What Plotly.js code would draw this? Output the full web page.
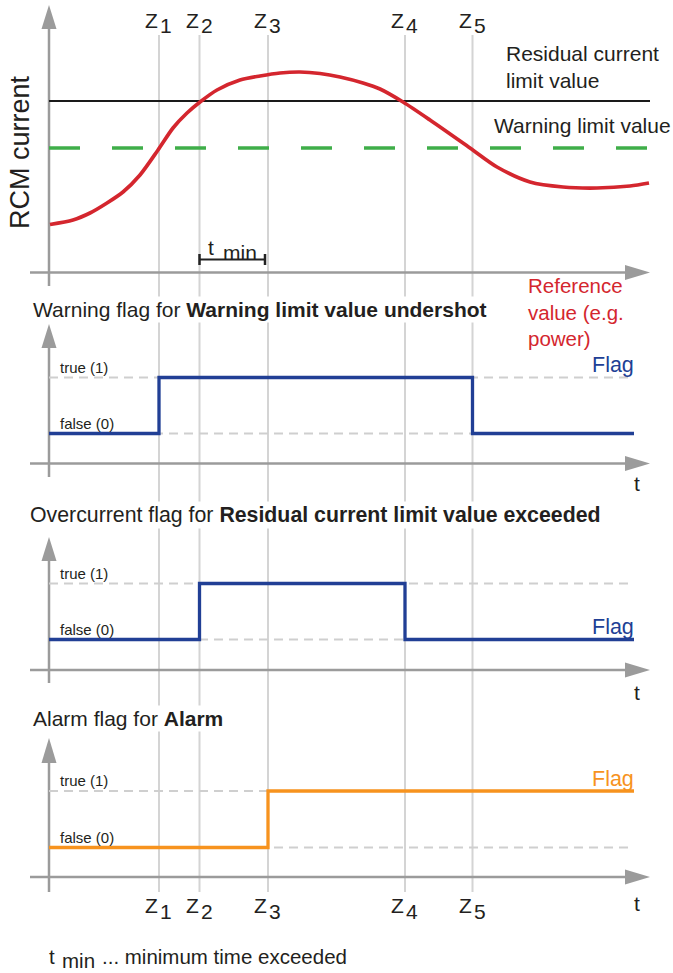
<!DOCTYPE html>
<html>
<head>
<meta charset="utf-8">
<script src="https://cdn.plot.ly/plotly-3.0.1.min.js"></script>
<style>html,body{margin:0;padding:0;background:#fff;}#chart{width:673px;height:973px;}</style>
</head>
<body>
<div id="chart"></div>
<script>
// ---------------- DATA ----------------
const zLabels = ['1', '2', '3', '4', '5'];
const zTimes = [11.0, 15.05, 21.9, 35.6, 42.35];
const tminStart = 15.05, tminEnd = 21.6;
const curveT = [0.1, 2.4, 4.1, 5.8, 7.4, 9.1, 10.9, 12.4, 13.8, 15.1, 16.8, 19.1, 21.1, 23.1, 25.1, 27.1, 29.1, 31.4, 33.1, 35.4, 38.1, 42.1, 44.8, 48.1, 51.4, 54.8, 58.1, 60.0];
const curveI = [4.80, 5.25, 5.95, 6.95, 8.05, 9.75, 12.25, 14.45, 15.95, 17.05, 18.25, 19.25, 19.65, 19.95, 20.05, 19.90, 19.55, 18.95, 18.35, 17.05, 15.25, 12.45, 10.55, 9.05, 8.55, 8.45, 8.65, 8.95];
const limitT = [0, 60.1];
const residualLimit = [17.15, 17.15];
const warningLimit = [12.45, 12.45];
const flagT0 = 0, flagT1 = 58.5;
const warnFlagT = [0, 11.0, 42.35, 58.5];
const warnFlagV = [0, 1, 0, 0];
const overFlagT = [0, 15.05, 35.6, 58.5];
const overFlagV = [0, 1, 0, 0];
const alarmFlagT = [0, 21.9, 58.5];
const alarmFlagV = [0, 1, 1];
const stateLabels = ['false (0)', 'true (1)'];

// ---------------- LAYOUT HELPERS ----------------
const W = 673, H = 973;
const FONT = 'Liberation Sans, Arial, sans-serif';
const TXT = '#231f20';
const AX = '#9b9b9b';
const ZL = '#d4d4d4';
const RED = '#d4262e', GREEN = '#3fae49', BLUE = '#213f95', ORANGE = '#f7931e';
const PX0 = 49, PPT = 10; // x pixel of t=0, pixels per time unit
const xr = [(0 - PX0) / PPT, (W - PX0) / PPT];
const fx = p => p / W;
const fy = p => 1 - p / H;
function yax(pTop, pBot, pZero, ppu) {
  return {domain: [fy(pBot), fy(pTop)], range: [(pZero - pBot) / ppu, (pZero - pTop) / ppu],
          visible: false, fixedrange: true, anchor: 'x'};
}
const F = (size, color) => ({family: FONT, size: size, color: color || TXT});

const shapes = [];
const ann = [];

// Z marker lines (through all panels)
zTimes.forEach(t => shapes.push({type: 'line', xref: 'x', yref: 'paper', x0: t, x1: t, y0: fy(35), y1: fy(892),
  line: {color: ZL, width: 2}, layer: 'below'}));

// axes with arrows
function axes(tipY, baseY, botY, hY) {
  shapes.push({type: 'line', xref: 'paper', yref: 'paper', x0: fx(PX0), x1: fx(PX0), y0: fy(baseY), y1: fy(botY),
    line: {color: AX, width: 2.5}, layer: 'below'});
  shapes.push({type: 'path', xref: 'paper', yref: 'paper',
    path: `M ${fx(PX0 - 7.5)} ${fy(baseY + 1)} L ${fx(PX0)} ${fy(tipY)} L ${fx(PX0 + 7.5)} ${fy(baseY + 1)} Z`,
    fillcolor: AX, line: {width: 0}, layer: 'below'});
  shapes.push({type: 'line', xref: 'paper', yref: 'paper', x0: fx(30), x1: fx(626), y0: fy(hY), y1: fy(hY),
    line: {color: AX, width: 2.5}, layer: 'below'});
  shapes.push({type: 'path', xref: 'paper', yref: 'paper',
    path: `M ${fx(625)} ${fy(hY - 7.5)} L ${fx(650)} ${fy(hY)} L ${fx(625)} ${fy(hY + 7.5)} Z`,
    fillcolor: AX, line: {width: 0}, layer: 'below'});
}
axes(5, 28, 286, 272.5);
axes(324, 347, 477, 463.5);
axes(537, 560, 683, 670);
axes(738, 762, 892, 877);

// dashed state reference lines in flag panels
['y2', 'y3', 'y4'].forEach(ya => {
  [0, 1].forEach(v => shapes.push({type: 'line', xref: 'x', yref: ya, x0: flagT0, x1: flagT1, y0: v, y1: v,
    line: {color: '#cfcfcf', width: 2, dash: '9px,6px'}, layer: 'below'}));
});

// t_min bracket
shapes.push({type: 'line', xref: 'x', yref: 'paper', x0: tminStart, x1: tminEnd, y0: fy(259.5), y1: fy(259.5), line: {color: '#222', width: 1.8}});
[tminStart, tminEnd].forEach(t => shapes.push({type: 'line', xref: 'x', yref: 'paper', x0: t, x1: t, y0: fy(254), y1: fy(265), line: {color: '#222', width: 2.5}}));

function text(t, x, y, opt) {
  ann.push(Object.assign({text: t, x: x, y: y, xref: 'paper', yref: 'paper', showarrow: false,
    xanchor: 'left', yanchor: 'middle', font: F(21)}, opt || {}));
}

// Z labels (top and bottom)
zTimes.forEach((t, i) => {
  [[20, 25.5], [905, 911]].forEach(([yz, yd]) => {
    text('Z', t, fy(yz), {xref: 'x', xanchor: 'right', xshift: 1, font: F(21)});
    text(zLabels[i], t, fy(yd), {xref: 'x', xanchor: 'left', xshift: -1, font: F(21)});
  });
});

// panel 1 texts
text('RCM current', fx(20), fy(152), {xanchor: 'center', textangle: -90, font: F(27)});
text('Residual current<br>limit value', fx(504), fy(66.5), {align: 'left', font: F(21)});
text('Warning limit value', fx(492), fy(126), {font: F(21)});
text('Reference<br>value (e.g.<br>power)', fx(526), fy(312), {align: 'left', font: F(20.5, RED)});
text('t', tminStart + 1.1, fy(247), {xref: 'x', xanchor: 'center', font: F(21)});
text('min', tminStart + 2.1, fy(252.5), {xref: 'x', font: F(21)});

// panel titles
text('Warning flag for <b>Warning limit value undershot</b>', fx(31), fy(310), {bgcolor: '#fff', font: F(21)});
text('Overcurrent flag for <b>Residual current limit value exceeded</b>', fx(28), fy(515), {bgcolor: '#fff', font: F(21.3)});
text('Alarm flag for <b>Alarm</b>', fx(31), fy(718), {bgcolor: '#fff', font: F(21)});

// state labels + flag labels
[['y2', BLUE, 1], ['y3', BLUE, 0], ['y4', ORANGE, 1]].forEach(([ya, col, fv]) => {
  stateLabels.forEach((s, v) => text(s, flagT0 + 0.9, v + 0.18, {xref: 'x', yref: ya, font: F(15)}));
  text('Flag', flagT1 + 0.2, fv + 0.22, {xref: 'x', yref: ya, xanchor: 'right', font: F(21.5, col)});
});

// t axis labels
[483, 692, 903].forEach(y => text('t', fx(637), fy(y), {xanchor: 'center', font: F(21)}));

// footnote
text('t', fx(47), fy(956), {font: F(20.5)});
text('min', fx(60), fy(960), {font: F(20.5)});
text('... minimum time exceeded', fx(100), fy(956.5), {font: F(20.5)});

// ---------------- TRACES ----------------
const traces = [
  {x: limitT, y: warningLimit, xaxis: 'x', yaxis: 'y', mode: 'lines', line: {color: GREEN, width: 3.5, dash: '31px,32px'}},
  {x: limitT, y: residualLimit, xaxis: 'x', yaxis: 'y', mode: 'lines', line: {color: '#1a1a1a', width: 1.8}},
  {x: curveT, y: curveI, xaxis: 'x', yaxis: 'y', mode: 'lines', line: {color: RED, width: 3.7, shape: 'spline', smoothing: 0.8}},
  {x: warnFlagT, y: warnFlagV, xaxis: 'x', yaxis: 'y2', mode: 'lines', line: {color: BLUE, width: 3.3, shape: 'hv'}},
  {x: overFlagT, y: overFlagV, xaxis: 'x', yaxis: 'y3', mode: 'lines', line: {color: BLUE, width: 3.3, shape: 'hv'}},
  {x: alarmFlagT, y: alarmFlagV, xaxis: 'x', yaxis: 'y4', mode: 'lines', line: {color: ORANGE, width: 3.3, shape: 'hv'}}
];

const layout = {
  width: W, height: H,
  margin: {l: 0, r: 0, t: 0, b: 0},
  paper_bgcolor: '#fff', plot_bgcolor: 'rgba(0,0,0,0)',
  showlegend: false,
  xaxis: {range: xr, visible: false, fixedrange: true, domain: [0, 1], anchor: 'y'},
  yaxis: yax(0, 300, 272.5, 10),
  yaxis2: yax(318, 482, 433.5, 56),
  yaxis3: yax(528, 690, 639.5, 56),
  yaxis4: yax(728, 900, 847.5, 56.5),
  shapes: shapes,
  annotations: ann
};

Plotly.newPlot('chart', traces, layout, {displayModeBar: false, staticPlot: true});
</script>
</body>
</html>
